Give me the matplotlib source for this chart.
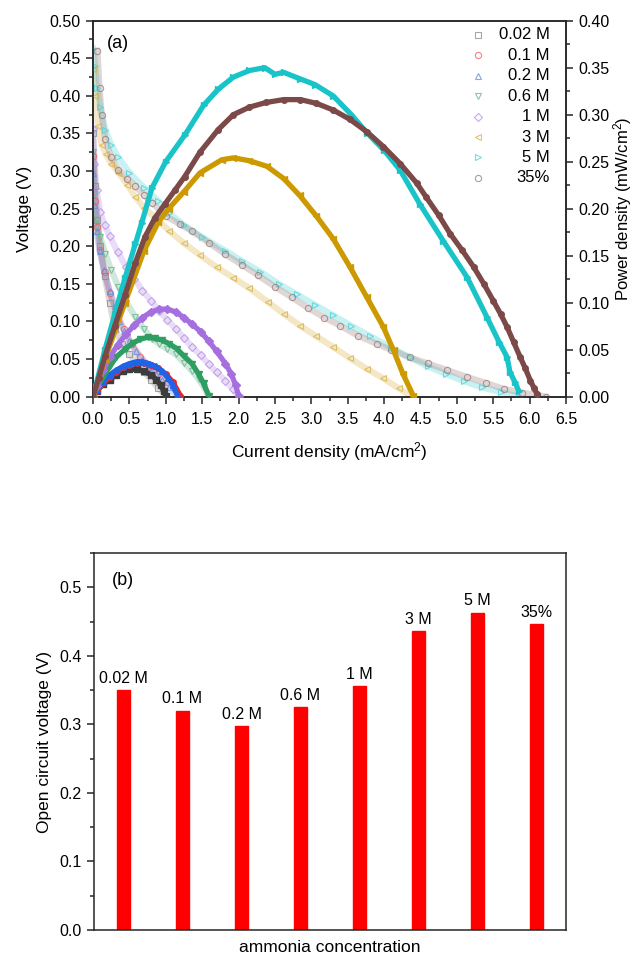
import matplotlib
matplotlib.use('Agg')
import matplotlib.pyplot as plt
from matplotlib.ticker import MultipleLocator, FormatStrFormatter

plt.rcParams['font.family'] = ['Liberation Sans', 'DejaVu Sans']
plt.rcParams['mathtext.default'] = 'regular'

# ---- (a) polarization curves: current density (mA/cm2) vs voltage (V) ----
i_pol_002 = [0.0, 0.03, 0.06, 0.1, 0.16, 0.23, 0.3, 0.4, 0.5, 0.6, 0.7, 0.8, 0.9, 1.0]
v_002 = [0.35, 0.28, 0.235, 0.2, 0.16, 0.125, 0.09, 0.07, 0.056, 0.045, 0.033, 0.022, 0.011, 0.0]

i_pol_01 = [0.0, 0.03, 0.06, 0.1, 0.16, 0.23, 0.32, 0.42, 0.53, 0.65, 0.78, 0.9, 1.02, 1.12, 1.2]
v_01 = [0.32, 0.26, 0.225, 0.195, 0.165, 0.138, 0.112, 0.09, 0.07, 0.053, 0.04, 0.03, 0.019, 0.01, 0.0]

i_pol_02 = [0.0, 0.02, 0.05, 0.09, 0.15, 0.23, 0.3, 0.36, 0.43, 0.5, 0.59, 0.68, 0.77, 0.86, 0.95, 1.05, 1.16]
v_02 = [0.298, 0.255, 0.22, 0.194, 0.168, 0.141, 0.12, 0.101, 0.087, 0.074, 0.06, 0.048, 0.039, 0.03, 0.022, 0.012, 0.0]

i_pol_06 = [0.0, 0.02, 0.05, 0.1, 0.17, 0.25, 0.35, 0.46, 0.58, 0.7, 0.81, 0.91, 1.02, 1.14, 1.25, 1.36, 1.45, 1.52, 1.59]
v_06 = [0.325, 0.27, 0.235, 0.212, 0.19, 0.168, 0.146, 0.125, 0.106, 0.09, 0.077, 0.07, 0.063, 0.056, 0.045, 0.034, 0.023, 0.013, 0.0]

i_pol_1 = [0.0, 0.02, 0.05, 0.1, 0.16, 0.23, 0.34, 0.46, 0.57, 0.68, 0.8, 0.91, 1.02, 1.14, 1.25, 1.36, 1.48, 1.59, 1.7, 1.82, 1.92, 2.0]
v_1 = [0.356, 0.31, 0.275, 0.245, 0.228, 0.213, 0.192, 0.172, 0.156, 0.141, 0.127, 0.114, 0.102, 0.09, 0.078, 0.066, 0.055, 0.043, 0.032, 0.021, 0.01, 0.0]

i_pol_3 = [0.0, 0.03, 0.07, 0.12, 0.18, 0.25, 0.35, 0.47, 0.58, 0.7, 0.86, 1.05, 1.25, 1.47, 1.7, 1.93, 2.15, 2.4, 2.62, 2.85, 3.07, 3.3, 3.53, 3.76, 3.99, 4.2, 4.38]
v_3 = [0.436, 0.4, 0.36, 0.335, 0.322, 0.31, 0.298, 0.282, 0.266, 0.251, 0.238, 0.22, 0.204, 0.188, 0.172, 0.158, 0.144, 0.126, 0.11, 0.094, 0.08, 0.066, 0.051, 0.037, 0.024, 0.011, 0.0]

i_pol_5 = [0.0, 0.03, 0.06, 0.1, 0.17, 0.25, 0.35, 0.5, 0.7, 0.9, 1.05, 1.25, 1.5, 1.82, 2.05, 2.3, 2.55, 2.8, 3.05, 3.3, 3.55, 3.8, 4.1, 4.35, 4.6, 4.85, 5.1, 5.35, 5.6, 5.85]
v_5 = [0.463, 0.44, 0.41, 0.385, 0.355, 0.335, 0.318, 0.298, 0.278, 0.26, 0.244, 0.228, 0.212, 0.194, 0.18, 0.166, 0.15, 0.136, 0.122, 0.108, 0.094, 0.081, 0.065, 0.052, 0.04, 0.03, 0.02, 0.012, 0.006, 0.0]

i_pol_35 = [0.06, 0.09, 0.12, 0.17, 0.25, 0.35, 0.47, 0.58, 0.7, 0.81, 1.0, 1.2, 1.36, 1.6, 1.82, 2.05, 2.27, 2.5, 2.73, 2.95, 3.18, 3.4, 3.64, 3.9, 4.1, 4.35, 4.6, 4.87, 5.14, 5.4, 5.65, 5.9, 6.1, 6.22]
v_35 = [0.46, 0.41, 0.375, 0.342, 0.318, 0.302, 0.29, 0.28, 0.268, 0.258, 0.24, 0.229, 0.22, 0.204, 0.189, 0.175, 0.161, 0.146, 0.132, 0.118, 0.105, 0.094, 0.081, 0.07, 0.062, 0.052, 0.044, 0.035, 0.026, 0.018, 0.01, 0.005, 0.002, 0.0]

# ---- (a) power density curves (mW/cm2) ----
i_pow_002 = [0, 0.05, 0.14, 0.23, 0.32, 0.41, 0.5, 0.6, 0.7, 0.8, 0.87, 0.93, 0.97, 1.0]
p_002 = [0, 0.006, 0.013, 0.018, 0.023, 0.027, 0.029, 0.029, 0.027, 0.023, 0.018, 0.012, 0.006, 0.001]

i_pow_01 = [0, 0.05, 0.14, 0.23, 0.32, 0.41, 0.5, 0.6, 0.7, 0.8, 0.9, 1.0, 1.1, 1.2]
p_01 = [0, 0.006, 0.014, 0.021, 0.026, 0.031, 0.034, 0.036, 0.036, 0.034, 0.03, 0.024, 0.015, 0.001]

i_pow_02 = [0, 0.05, 0.14, 0.23, 0.32, 0.41, 0.5, 0.6, 0.68, 0.77, 0.86, 0.95, 1.03, 1.1, 1.16]
p_02 = [0, 0.007, 0.016, 0.023, 0.028, 0.032, 0.035, 0.037, 0.037, 0.035, 0.032, 0.027, 0.02, 0.012, 0.001]

i_pow_06 = [0, 0.05, 0.14, 0.23, 0.32, 0.45, 0.55, 0.65, 0.75, 0.85, 0.95, 1.05, 1.15, 1.25, 1.36, 1.45, 1.52, 1.59]
p_06 = [0, 0.009, 0.021, 0.032, 0.042, 0.051, 0.057, 0.061, 0.063, 0.062, 0.06, 0.056, 0.051, 0.043, 0.035, 0.024, 0.014, 0.001]

i_pow_1 = [0, 0.05, 0.14, 0.23, 0.34, 0.45, 0.57, 0.68, 0.8, 0.91, 1.02, 1.14, 1.25, 1.36, 1.48, 1.59, 1.7, 1.82, 1.9, 1.96, 2.0]
p_1 = [0, 0.011, 0.028, 0.042, 0.055, 0.066, 0.076, 0.084, 0.09, 0.093, 0.093, 0.09, 0.084, 0.077, 0.069, 0.059, 0.048, 0.035, 0.024, 0.012, 0.001]

i_pow_3 = [0, 0.165, 0.44, 0.7, 0.9, 1.04, 1.25, 1.47, 1.77, 1.93, 2.15, 2.39, 2.62, 2.84, 3.07, 3.3, 3.53, 3.76, 3.99, 4.13, 4.26, 4.4]
p_3 = [0, 0.04, 0.1, 0.155, 0.186, 0.2, 0.218, 0.238, 0.252, 0.254, 0.251, 0.245, 0.232, 0.214, 0.192, 0.168, 0.138, 0.106, 0.074, 0.049, 0.024, 0.001]

i_pow_5 = [0, 0.165, 0.3, 0.44, 0.58, 0.67, 0.81, 1.0, 1.26, 1.52, 1.72, 1.93, 2.15, 2.36, 2.5, 2.62, 2.85, 3.05, 3.3, 3.55, 3.76, 4.0, 4.22, 4.49, 4.81, 5.14, 5.41, 5.58, 5.69, 5.73, 5.8, 5.85]
p_5 = [0, 0.05, 0.088, 0.126, 0.162, 0.185, 0.222, 0.25, 0.278, 0.31, 0.327, 0.34, 0.347, 0.35, 0.343, 0.345, 0.338, 0.332, 0.32, 0.3, 0.281, 0.262, 0.241, 0.205, 0.166, 0.127, 0.085, 0.058, 0.042, 0.026, 0.015, 0.006]

i_pow_35 = [0, 0.08, 0.165, 0.3, 0.44, 0.58, 0.715, 0.85, 0.99, 1.13, 1.26, 1.47, 1.72, 1.93, 2.15, 2.38, 2.62, 2.85, 3.07, 3.3, 3.53, 3.76, 3.99, 4.22, 4.45, 4.58, 4.75, 4.91, 5.07, 5.23, 5.37, 5.5, 5.6, 5.69, 5.78, 5.87, 5.94, 6.01, 6.06, 6.1]
p_35 = [0, 0.02, 0.043, 0.075, 0.108, 0.142, 0.17, 0.19, 0.205, 0.22, 0.234, 0.26, 0.284, 0.3, 0.308, 0.313, 0.316, 0.316, 0.312, 0.305, 0.295, 0.282, 0.266, 0.248, 0.227, 0.212, 0.193, 0.173, 0.156, 0.138, 0.12, 0.102, 0.088, 0.074, 0.058, 0.042, 0.03, 0.017, 0.009, 0.003]

labels = ['0.02 M', '0.1 M', '0.2 M', '0.6 M', '1 M', '3 M', '5 M', '35%']
colors = ['#3c3c3c', '#f02424', '#1f63e6', '#2f9e62', '#a66fe0', '#cc9900', '#19c4c8', '#7b4a48']
pol_colors = ['#8a8a8a', '#f05a5a', '#5a8ae8', '#62b48a', '#b48ee6', '#d8b040', '#4ad2d6', '#9a7a78']
markers = ['s', 'o', '^', 'v', 'D', '<', '>', 'o']

pol_i = [i_pol_002, i_pol_01, i_pol_02, i_pol_06, i_pol_1, i_pol_3, i_pol_5, i_pol_35]
pol_v = [v_002, v_01, v_02, v_06, v_1, v_3, v_5, v_35]
pow_i = [i_pow_002, i_pow_01, i_pow_02, i_pow_06, i_pow_1, i_pow_3, i_pow_5, i_pow_35]
pow_p = [p_002, p_01, p_02, p_06, p_1, p_3, p_5, p_35]

# ---- (b) open circuit voltage ----
ocv_labels = ['0.02 M', '0.1 M', '0.2 M', '0.6 M', '1 M', '3 M', '5 M', '35%']
ocv = [0.350, 0.320, 0.298, 0.325, 0.356, 0.436, 0.463, 0.4465]

fig = plt.figure(figsize=(6.33, 9.63), dpi=100)
W, H = 633, 963
ax1 = fig.add_axes([93 / W, 1 - 396.5 / H, (566 - 93) / W, (396.5 - 20.7) / H])
ax2 = ax1.twinx()
ax3 = fig.add_axes([94 / W, 1 - 930 / H, (566 - 94) / W, (930 - 553) / H])

spine_c = '#262626'
for ax in (ax1, ax2, ax3):
    for s in ax.spines.values():
        s.set_color(spine_c)
        s.set_linewidth(1.1)

# polarization curves (open markers)
for i in range(len(labels)):
    ax1.plot(pol_i[i], pol_v[i], color=pol_colors[i], lw=4.5, alpha=0.3, zorder=2)
    ax1.plot(pol_i[i], pol_v[i], ls='none', marker=markers[i], ms=4.5, mfc='none',
             mec=pol_colors[i], mew=0.8, alpha=0.75, zorder=3)

# power density curves (filled markers)
for i in range(len(labels)):
    ax2.plot(pow_i[i], pow_p[i], color=colors[i], lw=3.8, marker=markers[i], ms=4,
             mfc=colors[i], mec=colors[i], zorder=3)

ax1.set_xlim(0, 6.5)
ax1.set_ylim(0, 0.5)
ax2.set_ylim(0, 0.4)
ax1.xaxis.set_major_locator(MultipleLocator(0.5))
ax1.xaxis.set_minor_locator(MultipleLocator(0.25))
ax1.yaxis.set_major_locator(MultipleLocator(0.05))
ax1.yaxis.set_minor_locator(MultipleLocator(0.025))
ax2.yaxis.set_major_locator(MultipleLocator(0.05))
ax2.yaxis.set_minor_locator(MultipleLocator(0.025))
ax1.xaxis.set_major_formatter(FormatStrFormatter('%.1f'))
ax1.yaxis.set_major_formatter(FormatStrFormatter('%.2f'))
ax2.yaxis.set_major_formatter(FormatStrFormatter('%.2f'))

for ax in (ax1, ax2, ax3):
    ax.tick_params(which='major', direction='out', length=5, width=1.1, color=spine_c,
                   labelsize=11.5, pad=4)
    ax.tick_params(which='minor', direction='out', length=3, width=1.1, color=spine_c)
ax1.tick_params(axis='x', pad=6)
ax1.tick_params(which='both', top=False, right=False)
ax2.tick_params(which='both', left=False, right=True)

ax1.set_xlabel('Current density (mA/cm$^2$)', fontsize=12.5)
ax1.set_ylabel('Voltage (V)', fontsize=12.5)
ax2.set_ylabel('Power density (mW/cm$^2$)', fontsize=12)
ax1.yaxis.set_label_coords(-0.13, 0.5)
ax2.yaxis.set_label_coords(1.096, 0.5)
ax1.xaxis.set_label_coords(0.5, -0.115)
ax1.text(0.03, 0.94, '(a)', transform=ax1.transAxes, fontsize=13, va='center', ha='left')

# legend: small open markers with right-aligned labels
leg_y0, leg_dy = 0.962, 0.0543
for i, lab in enumerate(labels):
    yy = leg_y0 - i * leg_dy
    ax2.plot([0.814], [yy], transform=ax2.transAxes, ls='none', marker=markers[i], ms=4.5,
             mfc='none', mec=pol_colors[i], mew=0.8, alpha=0.75, clip_on=False, zorder=5)
    ax2.text(0.966, yy, lab, transform=ax2.transAxes, ha='right', va='center', fontsize=12)

# ---- (b) bars ----
xpos = list(range(1, len(ocv) + 1))
bars = ax3.bar(xpos, ocv, width=0.21, color='#ff0000', edgecolor='#ff0000', zorder=2)
for b, lab in zip(bars, ocv_labels):
    ax3.annotate(lab, (b.get_x() + b.get_width() / 2, b.get_height()),
                 xytext=(0, 3), textcoords='offset points', ha='center', va='bottom',
                 fontsize=11.5)
ax3.set_xlim(0.5, 8.5)
ax3.set_ylim(0, 0.55)
ax3.yaxis.set_major_locator(MultipleLocator(0.1))
ax3.yaxis.set_minor_locator(MultipleLocator(0.05))
ax3.yaxis.set_major_formatter(FormatStrFormatter('%.1f'))
ax3.set_xticks([])
ax3.tick_params(which='both', right=False, top=False)
ax3.set_ylabel('Open circuit voltage (V)', fontsize=12.5)
ax3.set_xlabel('ammonia concentration', fontsize=12.5)
ax3.yaxis.set_label_coords(-0.089, 0.5)
ax3.xaxis.set_label_coords(0.5, -0.027)
ax3.text(0.038, 0.926, '(b)', transform=ax3.transAxes, fontsize=13, va='center', ha='left')

fig.savefig('out.png', dpi=100)
